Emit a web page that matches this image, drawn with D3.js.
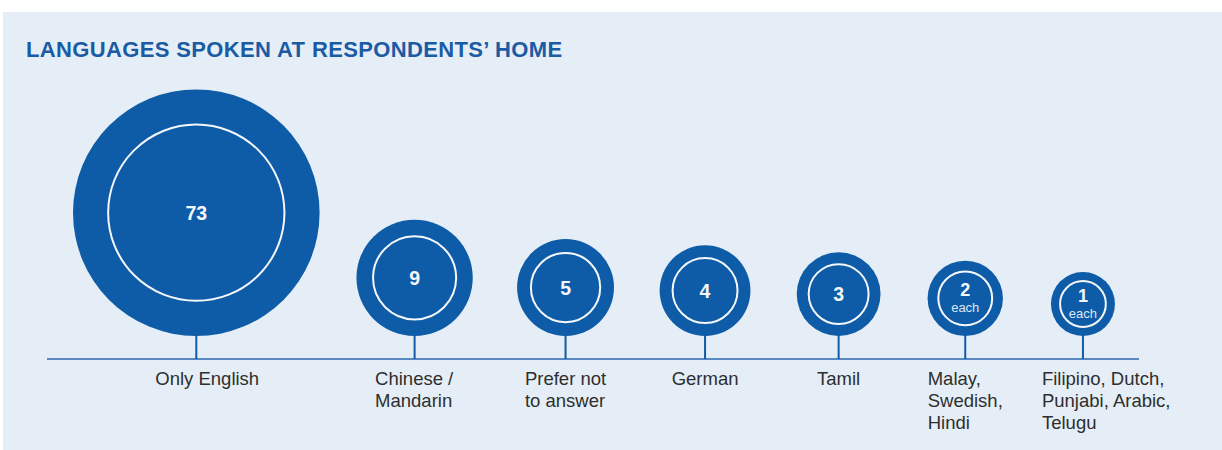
<!DOCTYPE html>
<html>
<head>
<meta charset="utf-8">
<script src="https://cdn.jsdelivr.net/npm/d3@7"></script>
<style>
  html, body { margin: 0; padding: 0; background: #ffffff; }
  svg { display: block; font-family: "Liberation Sans", Arial, sans-serif; }
</style>
</head>
<body>
<script>
// Languages spoken at home: counts of respondents per language group
const categories = [
  ["Only English"],
  ["Chinese /", "Mandarin"],
  ["Prefer not", "to answer"],
  ["German"],
  ["Tamil"],
  ["Malay,", "Swedish,", "Hindi"],
  ["Filipino, Dutch,", "Punjabi, Arabic,", "Telugu"]
];
const values = [73, 9, 5, 4, 3, 2, 1];
const valueNotes = ["", "", "", "", "", "each", "each"];
const title = "LANGUAGES SPOKEN AT RESPONDENTS\u2019 HOME";

const W = 1222, H = 450;
const BLUE = "#0e5ca7";
const svg = d3.select("body").append("svg")
  .attr("width", W).attr("height", H);

// background panel
svg.append("rect")
  .attr("x", 3).attr("y", 12)
  .attr("width", W - 3).attr("height", H - 12)
  .attr("fill", "#e5eef6");

svg.append("text")
  .attr("x", 26).attr("y", 57.3)
  .attr("fill", "#1b5ba4")
  .attr("font-size", 22)
  .attr("font-weight", 700)
  .attr("letter-spacing", 0.36)
  .text(title);

// layout
const baseY = 359;
const axisX0 = 47, axisX1 = 1139;
const circleBottom = 336;
const firstLeft = 73;
const pitch = 55;        // fixed part of the distance between neighbouring centres
const overlap = 0.9;     // share of the two radii added to that distance

// radius scale: compressed power scale so small counts stay readable
const r = d3.scalePow().exponent(0.45)
  .domain([1, d3.max(values)])
  .range([32, 123.3]);

// centres follow one another, spaced by their radii plus a fixed pitch
const centers = [];
values.forEach((v, i) => {
  if (i === 0) centers.push(firstLeft + r(v));
  else centers.push(centers[i - 1] + overlap * (r(values[i - 1]) + r(v)) + pitch);
});
const xPos = d3.scaleOrdinal().domain(d3.range(values.length)).range(centers);

const items = values.map((v, i) => ({ i, v, lines: categories[i], note: valueNotes[i] }));

// baseline
svg.append("line")
  .attr("x1", axisX0).attr("x2", axisX1)
  .attr("y1", baseY).attr("y2", baseY)
  .attr("stroke", "#2c67ad").attr("stroke-width", 1.6);

const g = svg.append("g").selectAll("g.bubble")
  .data(items).join("g")
  .attr("class", "bubble")
  .attr("transform", d => `translate(${xPos(d.i)},${circleBottom - r(d.v)})`);

// stems
g.append("line")
  .attr("x1", 0).attr("x2", 0)
  .attr("y1", d => r(d.v) - 1)
  .attr("y2", d => baseY - circleBottom + r(d.v))
  .attr("stroke", BLUE).attr("stroke-width", 2);

g.append("circle")
  .attr("r", d => r(d.v))
  .attr("fill", BLUE);

g.append("circle")
  .attr("r", d => r(d.v) * 0.715)
  .attr("fill", "none")
  .attr("stroke", "#f4f7fb")
  .attr("stroke-width", 2);

// value, with an optional "each" note underneath
g.append("text")
  .attr("text-anchor", "middle")
  .attr("fill", "#f4f7fb")
  .attr("y", d => d.note ? -2 : 7)
  .attr("font-size", d => d.note ? 18 : 19.5)
  .attr("font-weight", 700)
  .text(d => d.v);

g.filter(d => d.note).append("text")
  .attr("text-anchor", "middle")
  .attr("y", 13.8)
  .attr("font-size", 13)
  .attr("fill", "#dce8f4")
  .text(d => d.note);

// category labels, clipped at the bottom of the text area
svg.append("defs").append("clipPath").attr("id", "labelClip")
  .append("rect").attr("x", 0).attr("y", 0).attr("width", W).attr("height", 433.5);

const labels = svg.append("g").attr("clip-path", "url(#labelClip)")
  .selectAll("text.label")
  .data(items).join("text")
  .attr("class", "label")
  .attr("fill", "#2e2e2e")
  .attr("font-size", 18.5);

labels.selectAll("tspan")
  .data(d => d.lines).join("tspan")
  .attr("x", 0)
  .attr("y", (l, j) => 385 + j * 22)
  .text(l => l);

labels.attr("transform", function (d) {
  const w = this.getBBox().width;
  return `translate(${xPos(d.i) - Math.min(41, w / 2)},0)`;
});
</script>
</body>
</html>
